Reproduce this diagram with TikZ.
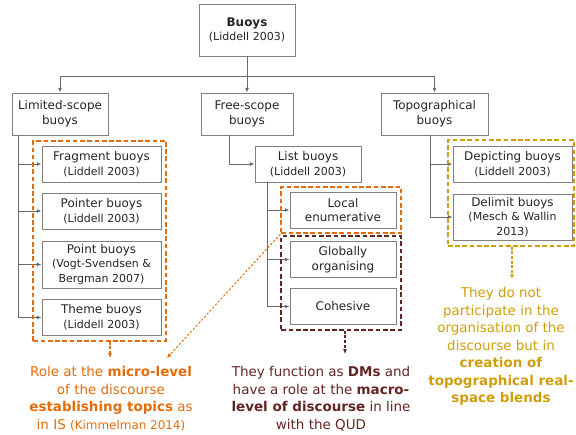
\documentclass[tikz,border=0pt]{standalone}
\usepackage{fontspec}
\setmainfont{DejaVu Sans}
\usetikzlibrary{arrows.meta,positioning,fit}
\definecolor{lorange}{RGB}{228,108,10}
\definecolor{dbrown}{RGB}{99,37,35}
\definecolor{tgold}{RGB}{207,158,10}
\definecolor{bxgray}{RGB}{128,128,128}
\definecolor{lngray}{RGB}{105,105,105}
\newcommand{\yr}[1]{{\fontsize{9.4}{12}\selectfont #1}}

\begin{document}
\begin{tikzpicture}[x=.03cm,y=-.03cm,>={Latex[length=4pt,width=3.4pt]},
 bx/.style={draw=bxgray,line width=.8pt,fill=white,align=center,text=black!85,inner sep=1pt,font=\fontsize{10.2}{12.5}\selectfont},
 head/.style={bx,minimum width=2.88cm,minimum height=1.26cm},
 kid/.style={bx,minimum width=3.57cm,minimum height=1.08cm},
 sub/.style={bx,minimum width=3.18cm,minimum height=1.08cm},
 cn/.style={draw=lngray,line width=.85pt},
 grp/.style={dash pattern=on 4pt off 2.2pt,line width=1.6pt,inner sep=4pt},
 ann/.style={line width=1pt,dash pattern=on 2.5pt off 1.5pt,>={Latex[length=4pt,width=3.6pt]}},
 note/.style={align=center,inner sep=0pt,anchor=north,font=\fontsize{11.5}{15}\selectfont}]
 \useasboundingbox (0,0) rectangle (576,434);
 \node[head,minimum height=1.56cm] (buoys) at (247,30) {\textbf{Buoys}\\\yr{(Liddell 2003)}};
 \node[head] (lim) at (60,114) {Limited-scope\\buoys};
 \node[head,minimum width=2.76cm] (free) at (247,114) {Free-scope\\buoys};
 \node[head,minimum width=3.21cm] (topo) at (434.5,114) {Topographical\\buoys};
 \node[kid] (frag) at (101.5,164) {Fragment buoys\\\yr{(Liddell 2003)}};
 \node[kid] (pointer) at (101.5,211) {Pointer buoys\\\yr{(Liddell 2003)}};
 \node[kid,minimum height=1.41cm] (point) at (101.5,264.5) {Point buoys\\\yr{(Vogt-Svendsen \&}\\\yr{Bergman 2007)}};
 \node[kid] (theme) at (101.5,317.5) {Theme buoys\\\yr{(Liddell 2003)}};
 \node[sub] (list) at (308,164) {List buoys\\\yr{(Liddell 2003)}};
 \node[sub] (local) at (343,210) {Local\\enumerative};
 \node[sub] (glob) at (343,259.5) {Globally\\organising};
 \node[sub] (cohes) at (343,306.5) {Cohesive};
 \node[kid] (depict) at (512.5,164) {Depicting buoys\\\yr{(Liddell 2003)}};
 \node[kid,minimum height=1.38cm] (delim) at (512.5,217) {Delimit buoys\\\yr{(Mesch \& Wallin}\\\yr{2013)}};
 \coordinate (split) at (247,76);
 \draw[cn,->] (buoys) -- (free);
 \draw[cn,->] (split) -| (lim);
 \draw[cn,->] (split) -| (topo);
 \foreach \n in {frag,pointer,point,theme}
  \draw[cn,->] ([xshift=6pt]lim.south west) |- (\n);
 \draw[cn,->] ([xshift=25pt]free.south west) |- (list);
 \foreach \n in {local,glob,cohes}
  \draw[cn,->] ([xshift=11pt]list.south west) |- (\n);
 \foreach \n in {depict,delim}
  \draw[cn,->] ([xshift=-3.5pt]topo.south) |- (\n);
 \node[grp,draw=lorange,fit={([xshift=-3pt]frag.north west)(theme.south east)}] (limgrp) {};
 \node[grp,draw=lorange,fit={([xshift=-3pt]local.north west)(local.south east)}] (locgrp) {};
 \node[grp,draw=dbrown,fit={([xshift=-3pt]glob.north west)(cohes.south east)}] (brgrp) {};
 \node[grp,draw=tgold,inner sep=1.5pt,fit={([xshift=-2.5pt,yshift=3pt]depict.north west)([yshift=-3pt]delim.south east)}] (gldgrp) {};
 \node[note,text=lorange] (ltext) at (111,366) {Role at the \textbf{micro-level}\\of the discourse\\\textbf{establishing topics} as\\in IS {\fontsize{10.2}{15}\selectfont(Kimmelman 2014)}};
 \node[note,text=dbrown] (btext) at (321,366) {They function as \textbf{DMs} and\\have a role at the \textbf{macro-}\\\textbf{level of discourse} in line\\with the QUD};
 \node[note,text=tgold] (gtext) at (501,287) {They do not\\participate in the\\organisation of the\\discourse but in\\\textbf{creation of}\\\textbf{topographical real-}\\\textbf{space blends}};
 \coordinate (otip) at (110,358);
 \coordinate (dtip) at (167,358);
 \coordinate (btip) at (345,354);
 \coordinate (gtip) at (512,279);
 \draw[ann,lorange,->] (limgrp.south -| otip) -- (otip);
 \draw[ann,lorange,->,dash pattern=on 2pt off 1.5pt,line width=.8pt] (locgrp.south west) -- (dtip);
 \draw[ann,dbrown,->] (brgrp.south -| btip) -- (btip);
 \draw[ann,tgold,->] (gldgrp.south -| gtip) -- (gtip);
\end{tikzpicture}
\end{document}
